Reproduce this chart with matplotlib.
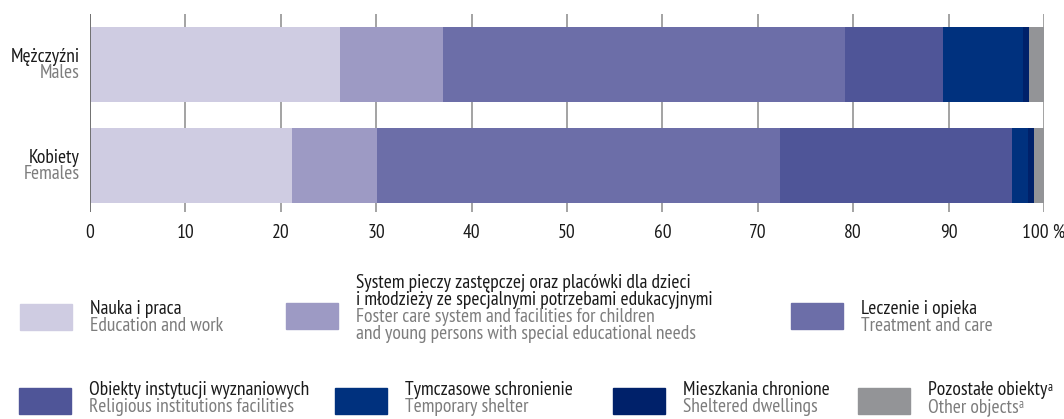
import matplotlib.pyplot as plt
import matplotlib.transforms as mtransforms
from matplotlib.patches import Rectangle
from matplotlib.text import Annotation
import numpy as np

plt.rcParams['font.family'] = ['PT Sans Narrow', 'DejaVu Sans']

# udział procentowy wg rodzaju obiektu
groups_pl = ["Mężczyźni", "Kobiety"]
groups_en = ["Males", "Females"]
education = [26.2, 21.2]
foster = [10.8, 8.9]
treatment = [42.1, 42.2]
religious = [10.3, 24.3]
temp_shelter = [8.4, 1.7]
sheltered = [0.6, 0.6]
other = [1.6, 1.1]

series = [education, foster, treatment, religious, temp_shelter, sheltered, other]
colors = ["#cfcce2", "#9d9ac4", "#6c6ea8", "#4f5598", "#00317e", "#00216a", "#939497"]
ticks = [0, 10, 20, 30, 40, 50, 60, 70, 80, 90, 100]
tick_labels = ["0", "10", "20", "30", "40", "50", "60", "70", "80", "90", "100 %"]

DARK = "#1a1a1a"
GREY = "#7d7d7d"
FS = 14

W, H = 1064, 419
fig = plt.figure(figsize=(W / 100, H / 100), dpi=100)
ax = fig.add_axes([90 / W, 1 - 212 / H, (1044 - 90) / W, (212 - 14) / H])


def fy(py):
    return 1 - py / H


ypos = np.array([0.0, 1.0])
left = np.zeros(2)
for vals, c in zip(series, colors):
    ax.barh(ypos, vals, left=left, height=0.74, color=c, zorder=2)
    left += np.array(vals)

ax.set_xlim(0, 100)
ax.set_ylim(1.46, -0.5)
for t in ticks[1:]:
    ax.axvline(t, color="#8a8a8a", lw=1.1, zorder=1)
ax.axvline(0, color="#707070", lw=1.4, zorder=3)
for s in ax.spines.values():
    s.set_visible(False)
ax.set_xticks([])
ax.set_yticks([])

# opisy osi X
trans = mtransforms.blended_transform_factory(ax.transData, fig.transFigure)
for t, lab in zip(ticks, tick_labels):
    ax.text(t, fy(238), lab, transform=trans, ha="center", va="baseline",
            fontsize=FS, color=DARK)

# podpisy wierszy
for base, pl, en in zip([62, 163], groups_pl, groups_en):
    fig.text(80 / W, fy(base), pl, ha="right", va="baseline", fontsize=FS, color=DARK)
    fig.text(80 / W, fy(base + 16), en, ha="right", va="baseline", fontsize=FS, color=GREY)

# legenda
legend = [
    (20, 304, 314, ["Nauka i praca"], ["Education and work"], 0),
    (286, 303, 288, ["System pieczy zastępczej oraz placówki dla dzieci",
                     "i młodzieży ze specjalnymi potrzebami edukacyjnymi"],
     ["Foster care system and facilities for children",
      "and young persons with special educational needs"], 1),
    (791, 303, 314, ["Leczenie i opieka"], ["Treatment and care"], 2),
    (19, 388, 395, ["Obiekty instytucji wyznaniowych"], ["Religious institutions facilities"], 3),
    (335, 388, 395, ["Tymczasowe schronienie"], ["Temporary shelter"], 4),
    (613, 388, 395, ["Mieszkania chronione"], ["Sheltered dwellings"], 5),
    (858, 388, 395, ["Pozostałe obiekty"], ["Other objects"], 6),
]
lh = 17
for x, y, base, pl, en, i in legend:
    fig.patches.append(Rectangle((x / W, fy(y + 26)), 52 / W, 26 / H,
                                 transform=fig.transFigure, color=colors[i]))
    lines = [(t, DARK) for t in pl] + [(t, GREY) for t in en]
    for k, (t, c) in enumerate(lines):
        txt = fig.text((x + 70) / W, fy(base + k * lh), t, ha="left", va="baseline",
                       fontsize=FS, color=c)
        if i == 6:
            # odsyłacz do przypisu
            fig.add_artist(Annotation("a", xy=(1, 0), xycoords=txt, xytext=(0.2, 5.5),
                                      textcoords="offset points", fontsize=9, color=c,
                                      va="baseline", ha="left"))

fig.savefig("out.png", dpi=100)
